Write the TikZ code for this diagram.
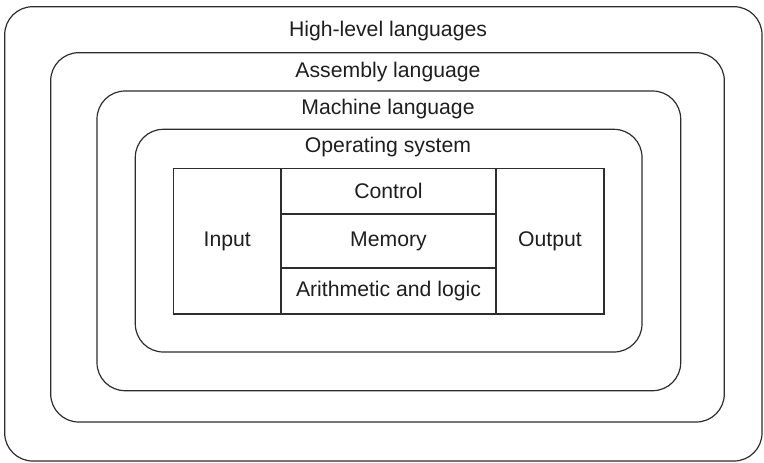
\documentclass[tikz,border=0pt]{standalone}
\usepackage{fontspec}
\setmainfont{Liberation Sans}
\usetikzlibrary{positioning}
\definecolor{linea}{RGB}{45,45,45}
\definecolor{texto}{RGB}{30,30,30}

\begin{document}
\begin{tikzpicture}[x=1pt,y=-1pt,
  font=\fontsize{21.2}{25}\selectfont,
  capa/.style={draw=linea, line width=1.2pt, rounded corners=28pt, inner sep=0pt},
  celda/.style={draw=linea, line width=1.2pt, inner sep=0pt, outer sep=0pt, anchor=north west, text=texto},
  rotulo/.style={text=texto, inner sep=0pt}]

\useasboundingbox (0,0) rectangle (764,463);

% capas, de fuera hacia dentro
\node[capa, minimum width=757.3pt, minimum height=454.3pt] (alto) at (383.35,233.85) {};
\node[capa, minimum width=673.6pt, minimum height=369.3pt] (ensamblador) at (387.5,237.35) {};
\node[capa, minimum width=583.7pt, minimum height=299.7pt] (maquina) at (388.85,240.85) {};
\node[capa, minimum width=506.7pt, minimum height=222.7pt] (sistema) at (388.65,240.65) {};

\node[rotulo] (txtalto) at (388,30.7) {High-level languages};
\node[rotulo] (txtensamblador) at (388,72) {Assembly language};
\node[rotulo] (txtmaquina) at (388,109) {Machine language};
\node[rotulo] (txtsistema) at (388,146.7) {Operating system};

% el computador
\node[celda, minimum width=107.5pt, minimum height=145.7pt] (entrada) at (173.5,168.3) {Input};
\node[celda, minimum width=215pt, minimum height=45.7pt] (control) at (entrada.north east) {Control};
\node[celda, minimum width=215pt, minimum height=54pt] (memoria) at (control.south west) {Memory};
\node[celda, minimum width=215pt, minimum height=46pt] (aritmetica) at (memoria.south west) {Arithmetic and logic};
\node[celda, minimum width=108pt, minimum height=145.7pt] (salida) at (control.north east) {Output};

\end{tikzpicture}
\end{document}
